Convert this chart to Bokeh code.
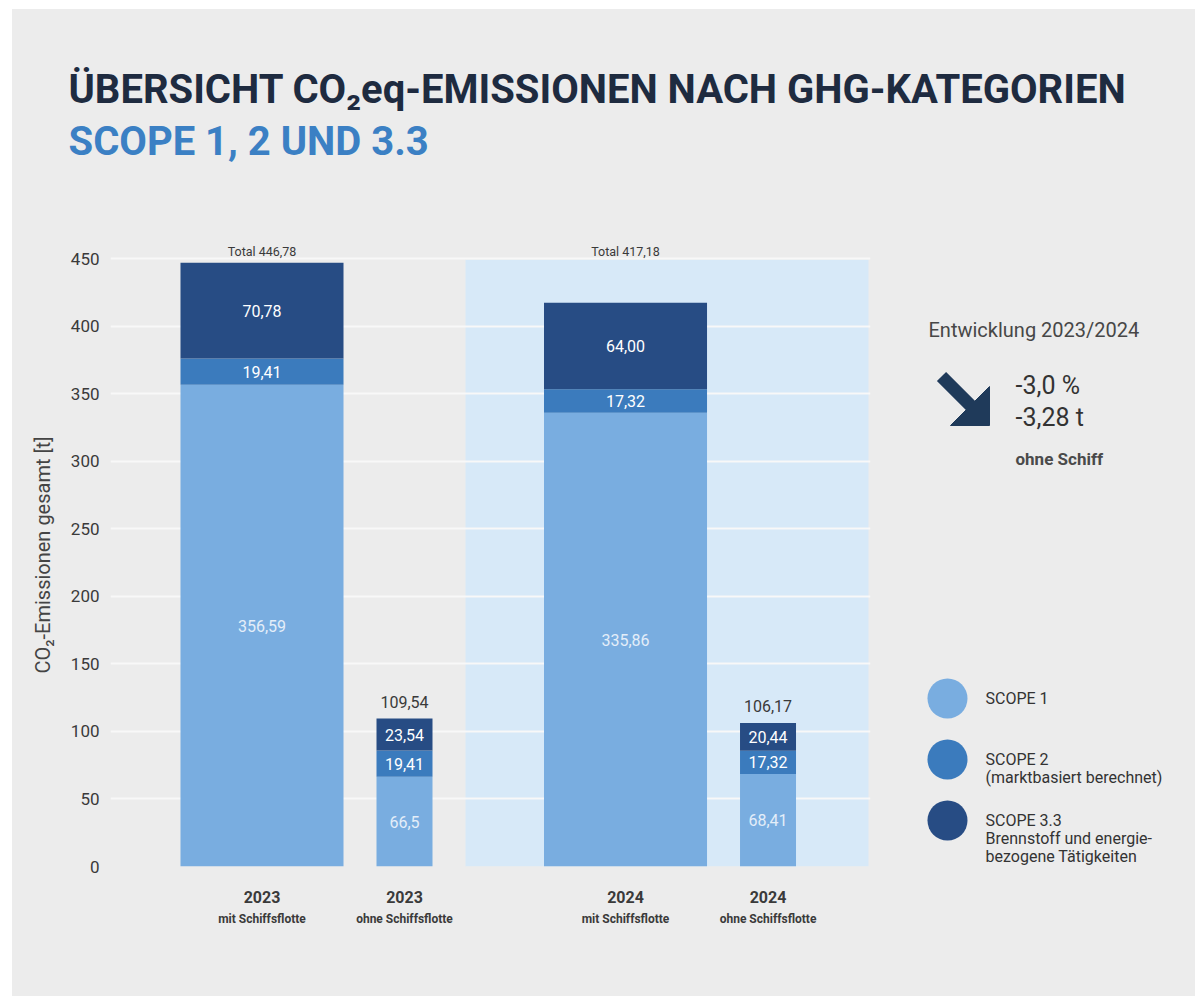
import numpy as np
from bokeh.plotting import figure
from bokeh.models import (ColumnDataSource, Range1d, FixedTicker, BoxAnnotation,
                          LinearAxis, CustomJSTickFormatter)
from bokeh.layouts import column, row
from bokeh.embed import file_html
from bokeh.resources import INLINE
from bokeh.core.properties import value

# ---------------- data ----------------
years = ["2023", "2023", "2024", "2024"]
variants = ["mit Schiffsflotte", "ohne Schiffsflotte", "mit Schiffsflotte", "ohne Schiffsflotte"]
scope1 = [356.59, 66.5, 335.86, 68.41]
scope2 = [19.41, 19.41, 17.32, 17.32]
scope3 = [70.78, 23.54, 64.00, 20.44]
scope1_labels = ["356,59", "66,5", "335,86", "68,41"]
scope2_labels = ["19,41", "19,41", "17,32", "17,32"]
scope3_labels = ["70,78", "23,54", "64,00", "20,44"]
total_labels = ["Total 446,78", "109,54", "Total 417,18", "106,17"]
y_ticks = [0, 50, 100, 150, 200, 250, 300, 350, 400, 450]
series_names = ["SCOPE 1", "SCOPE 2", "SCOPE 3.3"]
series_notes = [[], ["(marktbasiert berechnet)"], ["Brennstoff und energie-", "bezogene Tätigkeiten"]]
title_text = "ÜBERSICHT CO₂eq-EMISSIONEN NACH GHG-KATEGORIEN"
subtitle_text = "SCOPE 1, 2 UND 3.3"
y_label = "CO₂-Emissionen gesamt [t]"
change_title = "Entwicklung 2023/2024"
change_pct = "-3,0 %"
change_abs = "-3,28 t"
change_note = "ohne Schiff"

# ---------------- layout / style ----------------
FONT = "Roboto"
BG = "#ececec"
COLORS = ["#79ade0", "#3b7bbd", "#274c84"]
DARK = "#1e2b40"
TXT = "#3a3a3a"
OX, OY = 12, 9                      # top-left of the grey panel on the page
W, H = 1183, 987
TOP = 243                           # page y of the chart frame top
BOTTOM0 = 866                       # page y of value 0
LEFT, RIGHT = 110, 870              # page x of the chart frame
PX_PER_UNIT = 608 / 450
TITLE_H = TOP - OY
MAIN_W = 880 - OX
SIDE_W = W - MAIN_W
BODY_H = H - TITLE_H
BORDER_B = (OY + H) - BOTTOM0

GROUP_GAP = 0.551
is_mit = [1, 0, 1, 0]
group = [0, 0, 1, 1]
x_pos = [g * (2 + GROUP_GAP) + (1 - m) for g, m in zip(group, is_mit)]
widths = [1.144 if m else 0.393 for m in is_mit]

s1 = np.array(scope1); s2 = np.array(scope2); s3 = np.array(scope3)
tot = s1 + s2 + s3

src = ColumnDataSource(dict(x=x_pos, w=widths, s1=scope1, s2=scope2, s3=scope3))

def bare(width, height, xr, yr, **kw):
    f = figure(width=width, height=height, x_range=xr, y_range=yr,
               x_axis_location=None, y_axis_location=None, toolbar_location=None,
               output_backend="svg", outline_line_color=None,
               background_fill_color=None, border_fill_color=BG, **kw)
    f.grid.visible = False
    return f

# ---------------- title figure ----------------
pt = bare(W, TITLE_H, Range1d(OX, OX + W), Range1d(TOP, OY), min_border=0)
pt.text(x=[68], y=[89], text=[title_text], text_font=value(FONT), text_font_style="bold",
        text_font_size="40px", text_color=DARK, text_baseline="middle", text_align="left")
pt.text(x=[68], y=[141], text=[subtitle_text], text_font=value(FONT), text_font_style="bold",
        text_font_size="40px", text_color="#3b80c4", text_baseline="middle", text_align="left")

# ---------------- main chart ----------------
UNIT = 142.5
x_start = -(261.5 - LEFT) / UNIT
x_end = (RIGHT - 261.5) / UNIT
y_end = (BOTTOM0 - TOP) / PX_PER_UNIT

p = figure(width=MAIN_W, height=BODY_H, x_range=Range1d(x_start, x_end), y_range=Range1d(0, y_end),
           toolbar_location=None, output_backend="svg", x_axis_location=None,
           min_border_left=LEFT - OX, min_border_right=880 - RIGHT, min_border_top=0,
           min_border_bottom=BORDER_B,
           outline_line_color=None, background_fill_color=None, border_fill_color=BG)

p.xgrid.visible = False
p.ygrid.ticker = FixedTicker(ticks=y_ticks)
p.ygrid.grid_line_color = "#f8f8f8"
p.ygrid.grid_line_width = 2

hl = BoxAnnotation(left=x_pos[2] - 1.123, right=x_pos[3] + 0.705, bottom=0, top=449,
                   fill_color="#d7e9f8", fill_alpha=1, line_color=None, level="image")
p.add_layout(hl)

p.vbar_stack(["s1", "s2", "s3"], x="x", width="w", color=COLORS, line_color=None, source=src)

mids = np.concatenate([s1 / 2, s1 + s2 / 2, s1 + s2 + s3 / 2])
lab_src = ColumnDataSource(dict(x=x_pos * 3, y=list(mids),
                                t=scope1_labels + scope2_labels + scope3_labels,
                                c=["#e4eef9"] * 4 + ["white"] * 8))
p.text(x="x", y="y", text="t", text_color="c", source=lab_src, text_font=value(FONT),
       text_font_size="16px", text_align="center", text_baseline="middle")

mit_idx = [i for i in range(4) if is_mit[i]]
ohne_idx = [i for i in range(4) if not is_mit[i]]
p.text(x=[x_pos[i] for i in mit_idx], y=[455.5] * len(mit_idx), text=[total_labels[i] for i in mit_idx],
       text_font=value(FONT), text_font_size="12.5px", text_color=TXT,
       text_align="center", text_baseline="middle")
p.text(x=[x_pos[i] for i in ohne_idx], y=[tot[i] for i in ohne_idx], text=[total_labels[i] for i in ohne_idx],
       y_offset=-17, text_font=value(FONT), text_font_size="16px", text_color=TXT,
       text_align="center", text_baseline="middle")

# y axis
ya = p.yaxis[0]
ya.ticker = FixedTicker(ticks=y_ticks)
ya.axis_line_color = None
ya.major_tick_line_color = None
ya.minor_tick_line_color = None
ya.major_label_text_font = FONT
ya.major_label_text_font_size = "17px"
ya.major_label_text_color = TXT
ya.major_label_standoff = 5
ya.axis_label = y_label
ya.axis_label_text_font = FONT
ya.axis_label_text_font_size = "20px"
ya.axis_label_text_font_style = "normal"
ya.axis_label_text_color = "#444444"
ya.axis_label_standoff = 13

fmt_code = """
const i = xs.findIndex(v => Math.abs(v - tick) < 1e-6);
return i >= 0 ? labs[i] : "";
"""
xa1 = LinearAxis(ticker=FixedTicker(ticks=x_pos),
                 formatter=CustomJSTickFormatter(args=dict(xs=x_pos, labs=years), code=fmt_code))
xa2 = LinearAxis(ticker=FixedTicker(ticks=x_pos),
                 formatter=CustomJSTickFormatter(args=dict(xs=x_pos, labs=variants), code=fmt_code))
for ax, fs, sd in [(xa1, "16px", 18), (xa2, "12px", 0)]:
    ax.axis_line_color = None
    ax.major_tick_line_color = None
    ax.minor_tick_line_color = None
    ax.major_label_text_font = FONT
    ax.major_label_text_font_size = fs
    ax.major_label_text_font_style = "bold"
    ax.major_label_text_color = "#3a3a3a"
    ax.major_label_standoff = sd
p.add_layout(xa1, "below")
p.add_layout(xa2, "below")

# ---------------- side panel (frame aligned with chart frame) ----------------
ps = bare(SIDE_W, BODY_H, Range1d(880, 880 + SIDE_W), Range1d(BOTTOM0, TOP),
          min_border_left=0, min_border_right=0, min_border_top=0, min_border_bottom=BORDER_B)

ps.text(x=[928], y=[329], text=[change_title], text_font=value(FONT), text_font_size="20px",
        text_color="#474747", text_baseline="middle", text_align="left")
ARROW = "#1f3a5a"
ps.line(x=[941, 976], y=[376, 411], line_width=13, line_color=ARROW, line_cap="butt")
ps.patch(x=[989, 989, 950], y=[386, 425, 425], fill_color=ARROW, line_color=ARROW)
ps.text(x=[1015, 1015], y=[385, 417], text=[change_pct, change_abs], text_font=value(FONT),
        text_font_size="25px", text_color="#333333", text_baseline="middle", text_align="left")
ps.text(x=[1015], y=[458], text=[change_note], text_font=value(FONT), text_font_size="17px",
        text_font_style="bold", text_color="#4a4a4a", text_baseline="middle", text_align="left")

LEG_Y0, LEG_DY, LEG_LH = 698, 61, 18
leg_y = [LEG_Y0 + i * LEG_DY for i in range(3)]
ps.scatter(x=[947] * 3, y=leg_y, size=40, marker="circle", fill_color=COLORS, line_color=None)
tx, ty, tt = [], [], []
for i, (nm, notes) in enumerate(zip(series_names, series_notes)):
    lines = [nm] + notes
    for j, ln in enumerate(lines):
        tx.append(985); ty.append(leg_y[i] + j * LEG_LH); tt.append(ln)
ps.text(x=tx, y=ty, text=tt, text_font=value(FONT), text_font_size="16px", text_color="#333333",
        text_baseline="middle", text_align="left")

body = row(p, ps, spacing=0, styles={"background-color": BG})
layout = column(pt, body, spacing=0, margin=(OY, 0, 0, OX), styles={"background-color": BG})
open("out.html", "w").write(file_html(layout, INLINE))
